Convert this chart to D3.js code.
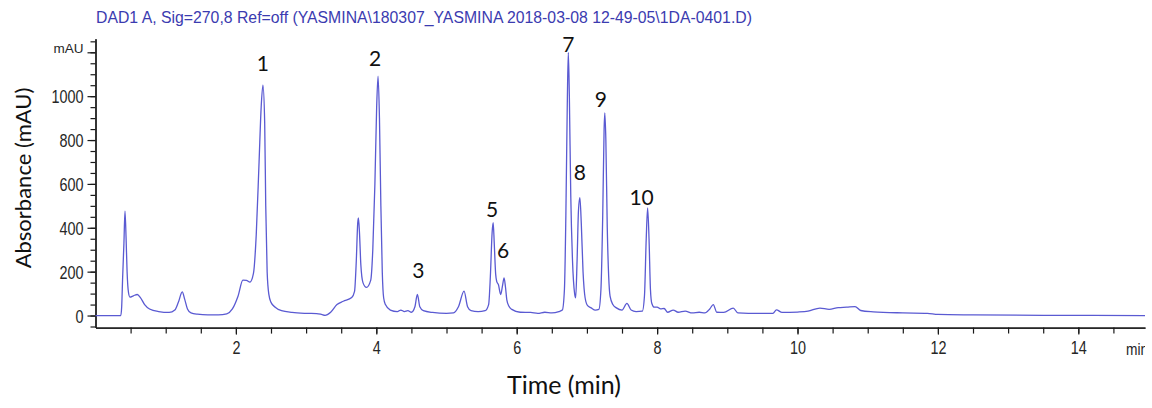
<!DOCTYPE html>
<html>
<head>
<meta charset="utf-8">
<script src="https://cdn.jsdelivr.net/npm/d3@7"></script>
<style>
  html, body { margin: 0; padding: 0; background: #fff; }
  svg { display: block; }
</style>
</head>
<body>
<svg id="chart" width="1152" height="408"></svg>
<script>
// Chromatogram trace: retention time (min) and detector signal (mAU)
const times = [
  0, 0.36, 0.373, 0.387, 0.405, 0.42, 0.435, 0.45, 0.47, 0.49, 0.54, 0.595, 0.64, 0.7, 0.77,
  0.9, 1.05, 1.13, 1.18, 1.236, 1.27, 1.31, 1.36, 1.45, 1.6, 1.75, 1.87, 1.95, 2.03, 2.1,
  2.15, 2.2, 2.25, 2.29, 2.33, 2.36, 2.385, 2.41, 2.425, 2.445, 2.47, 2.5, 2.56, 2.65, 2.8,
  3.0, 3.15, 3.22, 3.27, 3.35, 3.44, 3.53, 3.65, 3.69, 3.715, 3.735, 3.745, 3.76, 3.78, 3.81,
  3.86, 3.92, 3.95, 3.98, 4.005, 4.025, 4.045, 4.065, 4.085, 4.105, 4.13, 4.2, 4.3, 4.35, 4.4,
  4.45, 4.5, 4.55, 4.585, 4.62, 4.67, 4.8, 5.0, 5.1, 5.17, 5.25, 5.3, 5.35, 5.45, 5.55,
  5.6, 5.625, 5.65, 5.665, 5.68, 5.7, 5.715, 5.74, 5.772, 5.8, 5.82, 5.84, 5.86, 5.89, 5.93,
  6.05, 6.2, 6.3, 6.4, 6.5, 6.6, 6.65, 6.68, 6.7, 6.72, 6.735, 6.75, 6.77, 6.795, 6.825,
  6.84, 6.86, 6.88, 6.9, 6.92, 6.945, 6.975, 7.01, 7.06, 7.12, 7.17, 7.2, 7.225, 7.245, 7.255,
  7.27, 7.29, 7.31, 7.33, 7.37, 7.42, 7.5, 7.57, 7.63, 7.7, 7.79, 7.82, 7.845, 7.865, 7.885,
  7.905, 7.925, 7.96, 8.0, 8.05, 8.1, 8.15, 8.23, 8.3, 8.4, 8.5, 8.6, 8.68, 8.75, 8.8,
  8.85, 8.95, 9.085, 9.15, 9.3, 9.5, 9.65, 9.7, 9.78, 10.0, 10.15, 10.32, 10.45, 10.58, 10.7,
  10.82, 10.9, 11.08, 11.5, 11.85, 12.0, 12.5, 13.6, 14.95
];
const absorbance = [
  0, 0, 40, 177, 330, 476, 360, 200, 105, 84, 90, 96, 82, 50, 30,
  18, 14, 25, 60, 108, 75, 30, 12, 6, 3, 3, 8, 30, 88, 161,
  160, 152, 192, 370, 700, 950, 1050, 880, 500, 200, 95, 60, 38, 22, 14,
  10, 9, 5, 1, 15, 50, 65, 82, 110, 250, 420, 445, 380, 230, 150,
  128, 160, 300, 600, 950, 1091, 900, 500, 200, 80, 50, 25, 18, 25, 18,
  22, 15, 40, 96, 40, 22, 14, 10, 12, 40, 111, 40, 22, 18, 22,
  50, 180, 380, 423, 330, 190, 156, 140, 96, 140, 172, 130, 70, 42, 28,
  15, 14, 10, 15, 12, 18, 25, 120, 450, 950, 1199, 1000, 550, 250, 100,
  81, 250, 480, 537, 420, 200, 80, 45, 35, 25, 28, 120, 450, 850, 924,
  800, 400, 180, 88, 50, 35, 25, 55, 25, 18, 20, 90, 350, 491, 350,
  120, 55, 38, 38, 30, 32, 15, 25, 15, 20, 12, 15, 12, 30, 50,
  15, 14, 34, 12, 10, 10, 10, 26, 14, 16, 20, 34, 28, 36, 38,
  41, 23, 17, 12, 10, 5, 3, 1, 0
];

// Numbered peaks: label, apex time (min), apex signal (mAU)
const peakNames = ["1", "2", "3", "5", "6", "7", "8", "9", "10"];
const peakTimes = [2.385, 4.025, 4.585, 5.665, 5.82, 6.735, 6.9, 7.255, 7.865];
const peakHeights = [1050, 1091, 96, 423, 172, 1199, 537, 924, 491];

// Axis ticks
const yLabelTicks = [0, 200, 400, 600, 800, 1000];
const xLabelTicks = [2, 4, 6, 8, 10, 12, 14];

const titleText = "DAD1 A, Sig=270,8 Ref=off (YASMINA\\180307_YASMINA 2018-03-08 12-49-05\\1DA-0401.D)";

const svg = d3.select("#chart");
svg.append("rect").attr("width", 1152).attr("height", 408).attr("fill", "#fff");

const x = d3.scaleLinear().domain([0, 14.95]).range([95.5, 1145]);
const y = d3.scaleLinear().domain([-55, 1262]).range([327.6, 38.7]);

const axisColor = "#1a1a1a";
const tickColor = "#262626";
const tickFont = "'Liberation Sans', Arial, sans-serif";
const narrow = 0.8;   // horizontal squeeze for the narrow tick font

// Y axis: minor ticks every 50, labelled ticks every 200
const yMinor = d3.axisLeft(y).tickValues(d3.range(-50, 1251, 50)).tickSize(5).tickSizeOuter(0).tickFormat("");
const yMajor = d3.axisLeft(y).tickValues(yLabelTicks.concat([1200])).tickSize(8).tickSizeOuter(0)
  .tickFormat(d => d === 1200 ? "mAU" : d);

const gy1 = svg.append("g").attr("transform", `translate(${x(0)},0)`).call(yMinor);
const gy2 = svg.append("g").attr("transform", `translate(${x(0)},0)`).call(yMajor);
[gy1, gy2].forEach(g => {
  g.select(".domain").attr("stroke", axisColor).attr("stroke-width", 1.3);
  g.selectAll(".tick line").attr("stroke", axisColor).attr("stroke-width", 1.2);
});
gy2.attr("font-family", null).attr("font-size", null);
gy2.selectAll(".tick text")
  .attr("fill", tickColor)
  .style("font-family", tickFont)
  .style("font-size", d => d === 1200 ? "13.5px" : "18px")
  .attr("transform", d => d === 1200 ? null : `scale(${narrow},1)`)
  .attr("x", d => d === 1200 ? -12 : -12 / narrow)
  .attr("dy", d => d === 1200 ? "0.05em" : "0.36em");

// X axis: minor ticks every 0.5 min, labelled ticks every 2 min
const xMinor = d3.axisBottom(x).tickValues(d3.range(0.5, 14.95, 0.5)).tickSize(6).tickSizeOuter(0).tickFormat("");
const xMajor = d3.axisBottom(x).tickValues(xLabelTicks).tickSize(7).tickSizeOuter(0);
const gx1 = svg.append("g").attr("transform", `translate(0,${y(-55)})`).call(xMinor);
const gx2 = svg.append("g").attr("transform", `translate(0,${y(-55)})`).call(xMajor);
[gx1, gx2].forEach(g => {
  g.select(".domain").attr("stroke", axisColor).attr("stroke-width", 1.3);
  g.selectAll(".tick line").attr("stroke", axisColor).attr("stroke-width", 1.2);
});
gx2.attr("font-family", null).attr("font-size", null);
gx2.selectAll(".tick text")
  .attr("y", 14)
  .attr("transform", `scale(${narrow},1)`)
  .attr("fill", tickColor)
  .style("font-family", tickFont)
  .style("font-size", "18px");

// Unit label at the end of the time axis, clipped at the plot edge
svg.append("clipPath").attr("id", "unitClip")
  .append("rect").attr("x", 1100).attr("y", 330).attr("width", 45).attr("height", 40);
svg.append("g").attr("clip-path", "url(#unitClip)")
  .append("text")
  .attr("transform", `translate(1126,355) scale(0.86,1)`)
  .attr("fill", tickColor)
  .style("font-family", tickFont).style("font-size", "16px")
  .text("min");

// Signal trace
const line = d3.line()
  .x((d, i) => x(times[i]))
  .y(d => y(d))
  .curve(d3.curveMonotoneX);
svg.append("path")
  .datum(absorbance)
  .attr("d", line)
  .attr("fill", "none")
  .attr("stroke", "#5a5ad2")
  .attr("stroke-width", 1.3)
  .attr("stroke-linejoin", "round");

// Header line
svg.append("text")
  .attr("x", 96).attr("y", 23)
  .attr("fill", "#3b3bb0")
  .style("font-family", tickFont).style("font-size", "15.8px")
  .text(titleText);

// Axis titles
const labelFont = "Lato, 'Open Sans', sans-serif";
svg.append("text")
  .attr("transform", `translate(31,178) rotate(-90)`)
  .attr("text-anchor", "middle")
  .attr("fill", "#111")
  .style("font-family", labelFont).style("font-size", "22px")
  .text("Absorbance (mAU)");
svg.append("text")
  .attr("x", 564).attr("y", 394)
  .attr("text-anchor", "middle")
  .attr("fill", "#111")
  .style("font-family", labelFont).style("font-size", "25px")
  .text("Time (min)");

// Peak numbers placed relative to each apex (pixel offsets)
const labelOffsets = {
  "1": [0, -14], "2": [-3, -10], "3": [1, -16], "5": [-1, -6], "6": [-1, -20],
  "7": [0, -1], "8": [0, -18], "9": [-4, -6], "10": [-6, -3]
};
svg.append("g").selectAll("text")
  .data(peakNames)
  .join("text")
  .attr("x", (d, i) => x(peakTimes[i]) + labelOffsets[d][0])
  .attr("y", (d, i) => y(peakHeights[i]) + labelOffsets[d][1])
  .attr("text-anchor", "middle")
  .attr("fill", "#111")
  .style("font-family", labelFont).style("font-size", "21px")
  .text(d => d);
</script>
</body>
</html>
